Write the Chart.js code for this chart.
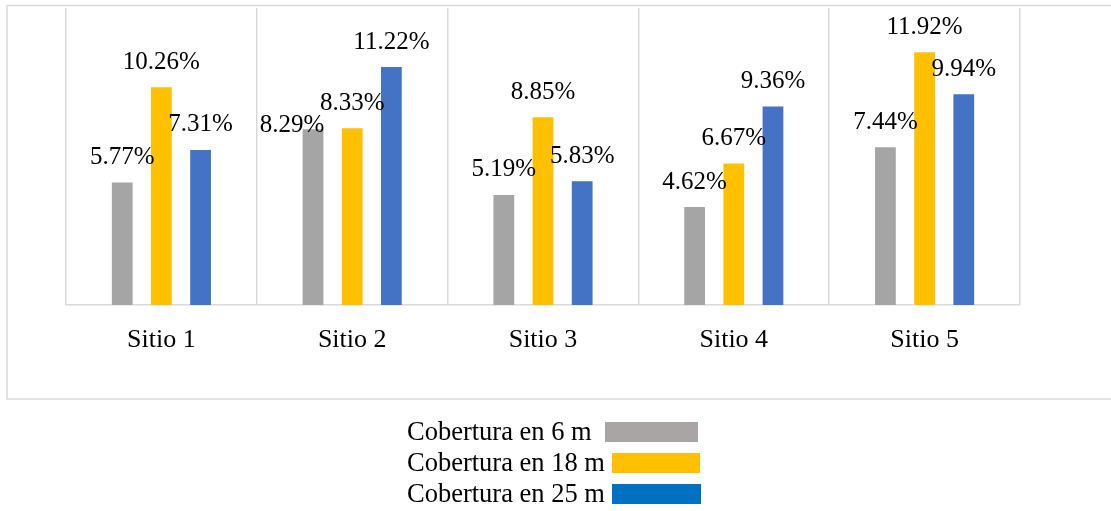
<!DOCTYPE html>
<html>
<head>
<meta charset="utf-8">
<script src="https://cdn.jsdelivr.net/npm/chart.js@4/dist/chart.umd.min.js"></script>
<style>
  html, body { margin: 0; padding: 0; background: #fff; }
  #wrap { width: 1111px; height: 511px; position: relative; }
</style>
</head>
<body>
<div id="wrap"><canvas id="myChart"></canvas></div>
<script>
// Data
const sitios = ["Sitio 1", "Sitio 2", "Sitio 3", "Sitio 4", "Sitio 5"]
const cobertura6 = [5.77, 8.29, 5.19, 4.62, 7.44]
const cobertura18 = [10.26, 8.33, 8.85, 6.67, 11.92]
const cobertura25 = [7.31, 11.22, 5.83, 9.36, 9.94]
const nombresSerie = ["Cobertura en 6 m", "Cobertura en 18 m", "Cobertura en 25 m"]
const yMax = 14

// Colores
const colorBarra = ["#A5A5A5", "#FFC000", "#4472C4"]
const colorLeyenda = ["#A8A5A4", "#FFC000", "#0070C0"]
const fuente = "'Liberation Serif', 'Times New Roman', serif"

// desplazamiento manual de etiquetas [serie-categoria] -> [dx, dy]
const ajusteEtiqueta = { "0-1": [-21, 21] }
// muestras de la leyenda: [x, ancho]
const muestraLeyenda = [[605, 93], [612, 88], [612, 89]]

// Plugin: marco exterior
const marcoPlugin = {
  id: "marco",
  beforeDraw(chart) {
    const ctx = chart.ctx
    ctx.save()
    ctx.strokeStyle = "#D9D9D9"
    ctx.lineWidth = 1.5
    ctx.beginPath()
    ctx.moveTo(1120, 5.5)
    ctx.lineTo(7, 5.5)
    ctx.lineTo(7, 399)
    ctx.lineTo(1120, 399)
    ctx.stroke()
    ctx.restore()
  }
}

// Plugin: etiquetas de datos encima de las barras
const etiquetasPlugin = {
  id: "etiquetas",
  afterDatasetsDraw(chart) {
    const ctx = chart.ctx
    ctx.save()
    ctx.font = "25px " + fuente
    ctx.fillStyle = "#000"
    ctx.textAlign = "center"
    ctx.textBaseline = "middle"
    chart.data.datasets.forEach((ds, i) => {
      chart.getDatasetMeta(i).data.forEach((bar, j) => {
        const aj = ajusteEtiqueta[i + "-" + j] || [0, 0]
        ctx.fillText(ds.data[j].toFixed(2) + "%", bar.x + aj[0], bar.y - 25 + aj[1])
      })
    })
    ctx.restore()
  }
}

// Plugin: leyenda abajo (texto y luego la muestra de color)
const leyendaPlugin = {
  id: "leyendaAbajo",
  afterDraw(chart) {
    const ctx = chart.ctx
    ctx.save()
    ctx.font = "26.5px " + fuente
    ctx.textAlign = "left"
    ctx.textBaseline = "middle"
    nombresSerie.forEach((nombre, i) => {
      const y = 432 + i * 31
      ctx.fillStyle = "#000"
      ctx.fillText(nombre, 407, y + 1)
      ctx.fillStyle = colorLeyenda[i]
      ctx.fillRect(muestraLeyenda[i][0], y - 10, muestraLeyenda[i][1], 20)
    })
    ctx.restore()
  }
}

const ctx = document.getElementById("myChart").getContext("2d")
new Chart(ctx, {
  type: "bar",
  data: {
    labels: sitios,
    datasets: [
      { label: nombresSerie[0], data: cobertura6, backgroundColor: colorBarra[0] },
      { label: nombresSerie[1], data: cobertura18, backgroundColor: colorBarra[1] },
      { label: nombresSerie[2], data: cobertura25, backgroundColor: colorBarra[2] }
    ]
  },
  options: {
    responsive: true,
    maintainAspectRatio: false,
    animation: false,
    devicePixelRatio: 1,
    categoryPercentage: 0.616,
    barPercentage: 0.53,
    layout: { padding: { left: 66, right: 91, top: 8, bottom: 0 } },
    plugins: {
      legend: { display: false },
      tooltip: { enabled: false }
    },
    scales: {
      x: {
        grid: { offset: true, color: "#D9D9D9", lineWidth: 1.5, drawTicks: false },
        border: { color: "#D9D9D9", width: 1.5 },
        ticks: { color: "#000", font: { family: fuente, size: 26 }, padding: 20 },
        afterFit(scale) { scale.height = 511 - 305 }
      },
      y: {
        display: false,
        min: 0,
        max: yMax
      }
    }
  },
  plugins: [marcoPlugin, etiquetasPlugin, leyendaPlugin]
})
</script>
</body>
</html>
